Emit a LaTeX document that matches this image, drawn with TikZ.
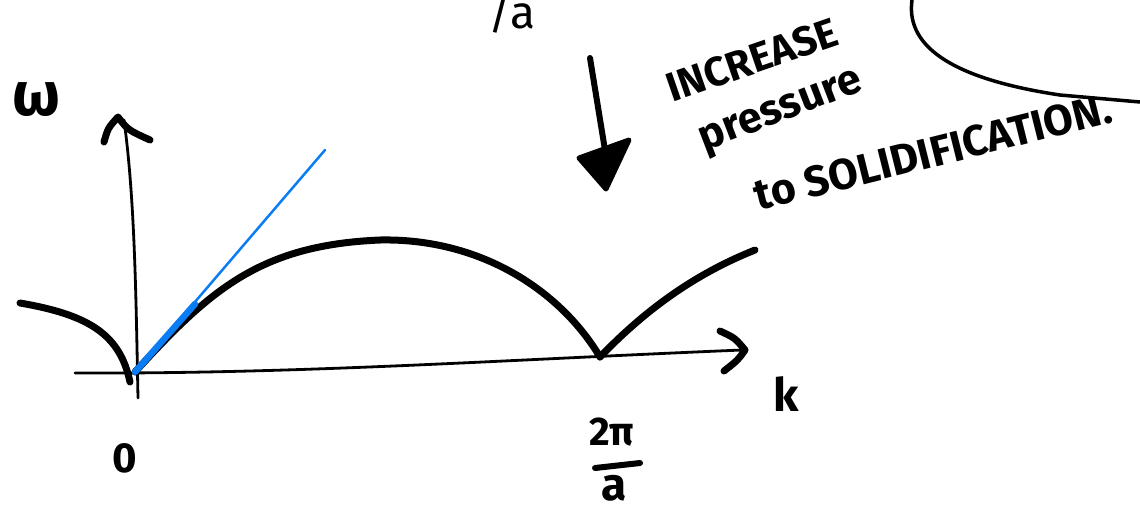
\documentclass[tikz,border=0pt]{standalone}
\usepackage{fontspec}
\setmainfont{Fira Sans}
\definecolor{penblue}{RGB}{10,125,245}
\begin{document}
\begin{tikzpicture}[x=1pt,y=-1pt,
  ink/.style={line width=7pt,line cap=round,line join=round},
  axisline/.style={line width=2.8pt,line cap=round},
  hand/.style={inner sep=0pt},
  lbl/.style={inner sep=0pt}]
\useasboundingbox (0,0) rectangle (1140,512);

% coordinates
\coordinate (O) at (135,372);
\coordinate (kstart) at (75,373);
\coordinate (kend) at (742,350);
\coordinate (wstart) at (138,398);
\coordinate (wend) at (124,120);
\coordinate (Z) at (600,357);
\coordinate (peak) at (380,240);
\coordinate (leftend) at (20,303);
\coordinate (rightend) at (755,250);
\coordinate (blueend) at (325,150);

% k axis
\draw[axisline] (kstart) .. controls (300,374) and (500,360) .. (kend);
\draw[ink] (720,331) .. controls (735,338) .. (745,350) .. controls (738,360) .. (724,371);
% omega axis
\draw[axisline] (wstart) .. controls (136,300) and (135,200) .. (wend);
\draw[ink] (104,142) .. controls (108,128) .. (118,117) .. controls (128,130) .. (150,140);

% dispersion curve
\draw[ink] (leftend) .. controls (90,315) and (120,335) .. (130,382);
\draw[ink] (O) .. controls (210,290) and (260,245) .. (peak)
  .. controls (480,238) and (560,290) .. (Z);
\draw[ink] (Z) .. controls (650,305) and (700,272) .. (rightend);

% blue tangent
\draw[penblue,line width=2.5pt,line cap=round] (O) -- (blueend);
\draw[penblue,line width=6.5pt,line cap=round] (O) -- (195,304);

% labels
\node[lbl,font=\fontsize{62}{62}\selectfont\bfseries] (wl) at (36,100) {ω};
\node[lbl,font=\fontsize{42}{42}\selectfont\bfseries] (zero) at (125,458) {0};
\node[lbl,font=\fontsize{46}{46}\selectfont\bfseries] (kl) at (786,394) {k};
\node[lbl,font=\fontsize{40}{40}\selectfont\bfseries] (num) at (612,432) {2π};
\coordinate (barl) at (595,468);
\coordinate (barr) at (640,463);
\draw[line width=6pt,line cap=round] (barl) -- (barr);
\node[lbl,font=\fontsize{46}{46}\selectfont\bfseries] (den) at (614,488) {a};
\node[lbl,font=\fontsize{46}{46}\selectfont] (slash) at (512,12) {/a};

% big arrow
\coordinate (atop) at (590,58);
\coordinate (abot) at (605,150);
\draw[line width=6pt,line cap=round] (atop) -- (abot);
\filldraw[line width=5pt,line join=round] (579,158) -- (629,140) -- (606,189) -- cycle;

% handwritten text
\node[hand,rotate=19,font=\fontsize{41}{41}\selectfont\bfseries] (t1) at (752,60) {INCREASE};
\node[hand,rotate=21,font=\fontsize{43}{43}\selectfont\bfseries] (t2) at (782,114) {pressure};
\node[hand,rotate=14,font=\fontsize{43}{43}\selectfont\bfseries] (t3) at (933,152) {to SOLIDIFICATION.};

% top right curve
\draw[line width=3.5pt,line cap=round] (912,0) .. controls (905,50) and (960,80) .. (1060,95) -- (1140,102);
\end{tikzpicture}
\end{document}
